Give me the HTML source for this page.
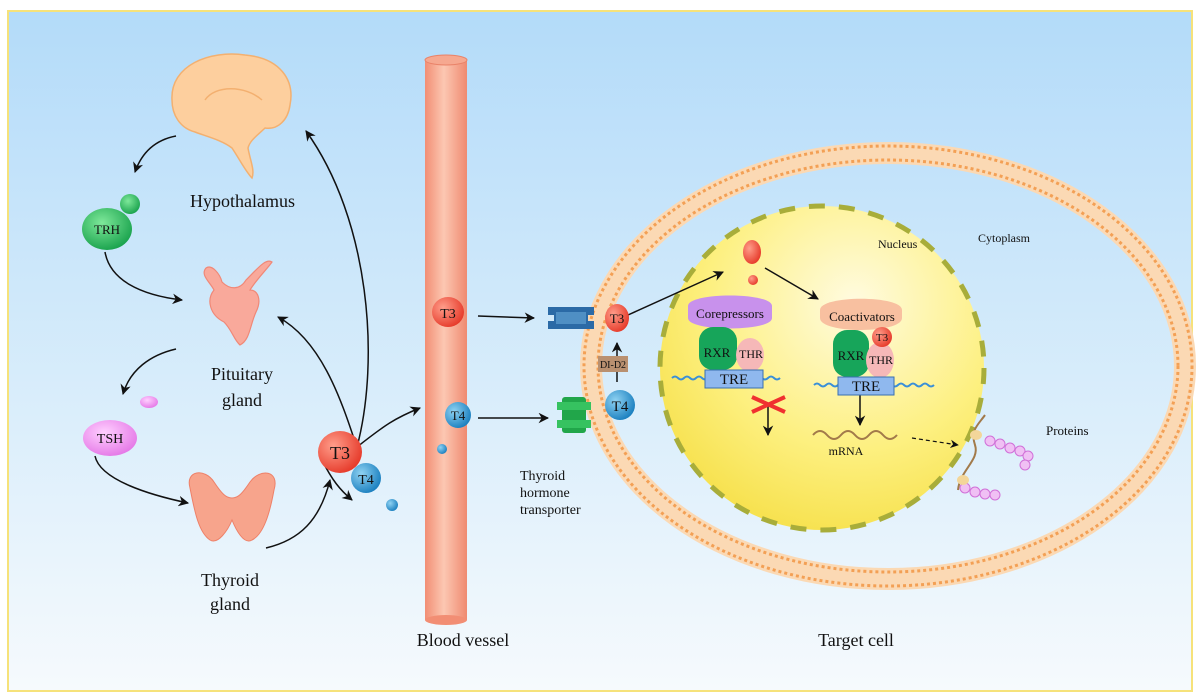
<!DOCTYPE html>
<html><head><meta charset="utf-8"><style>
html,body{margin:0;padding:0;background:#fff;}
svg{display:block;}
text{font-family:"Liberation Serif",serif;fill:#111;}
</style></head><body>
<svg width="1200" height="700" viewBox="0 0 1200 700" xmlns="http://www.w3.org/2000/svg">
<defs>
<linearGradient id="bg" x1="0" y1="0" x2="0" y2="1">
<stop offset="0" stop-color="#b3dbf9"/><stop offset="0.6" stop-color="#dbeefb"/><stop offset="1" stop-color="#f6fafd"/>
</linearGradient>
<linearGradient id="vessel" x1="0" y1="0" x2="1" y2="0">
<stop offset="0" stop-color="#f28e74"/><stop offset="0.45" stop-color="#fcc7b2"/><stop offset="1" stop-color="#ef8a70"/>
</linearGradient>
<radialGradient id="nuc" cx="0.6" cy="0.3" r="0.75">
<stop offset="0" stop-color="#fffbe0"/><stop offset="0.6" stop-color="#fdf080"/><stop offset="1" stop-color="#f6e04a"/>
</radialGradient>
<radialGradient id="red" cx="0.35" cy="0.35" r="0.7"><stop offset="0" stop-color="#ff9d8a"/><stop offset="1" stop-color="#e63a2a"/></radialGradient>
<radialGradient id="blue" cx="0.35" cy="0.35" r="0.7"><stop offset="0" stop-color="#8fd2f2"/><stop offset="1" stop-color="#1a7fbf"/></radialGradient>
<radialGradient id="green" cx="0.4" cy="0.35" r="0.7"><stop offset="0" stop-color="#7ee89a"/><stop offset="1" stop-color="#16a04a"/></radialGradient>
<radialGradient id="pink" cx="0.4" cy="0.35" r="0.7"><stop offset="0" stop-color="#ffd0ff"/><stop offset="1" stop-color="#e476e6"/></radialGradient>
<marker id="ar" viewBox="0 0 10 10" refX="9" refY="5" markerWidth="7" markerHeight="7" orient="auto"><path d="M0,0 L10,5 L0,10 L3,5 z" fill="#111"/></marker>
</defs>
<rect x="0" y="0" width="1200" height="700" fill="#fff"/>
<rect x="8" y="11" width="1184" height="680" fill="url(#bg)" stroke="#f6e27a" stroke-width="2"/>

<g fill="#fdcf9e" stroke="#f3b070" stroke-width="1.5">
<path d="M172,100 C170,65 210,50 245,55 C280,58 295,80 290,105 C288,120 278,130 265,128 C258,135 250,140 248,148 C250,160 255,170 252,178 C246,172 240,160 232,148 C222,140 205,136 195,132 C180,128 172,115 172,100 z"/>
<path d="M205,100 C215,85 245,85 262,100" fill="none"/>
</g>
<text x="190" y="207" font-size="18">Hypothalamus</text>

<circle cx="130" cy="204" r="10" fill="url(#green)"/>
<ellipse cx="107" cy="229" rx="25" ry="21" fill="url(#green)"/>
<text x="107" y="234" font-size="13" text-anchor="middle">TRH</text>

<g fill="#f9a99b" stroke="#f08877" stroke-width="1.2">
<path d="M206,268 C200,275 210,282 214,290 C206,300 210,315 224,322 C232,330 234,340 240,345 C250,340 250,325 256,312 C262,300 258,290 250,290 C256,280 268,268 272,262 C266,258 258,268 246,280 C240,290 230,290 222,282 C220,274 212,264 206,268 z"/>
</g>
<text x="242" y="380" font-size="18" text-anchor="middle">Pituitary</text>
<text x="242" y="406" font-size="18" text-anchor="middle">gland</text>

<ellipse cx="149" cy="402" rx="9" ry="6" fill="url(#pink)"/>
<ellipse cx="110" cy="438" rx="27" ry="18" fill="url(#pink)"/>
<text x="110" y="443" font-size="14" text-anchor="middle">TSH</text>

<g fill="#f7a48c" stroke="#ee8068" stroke-width="1">
<path d="M190,488 C185,470 205,468 214,482 C222,494 226,498 232,498 C238,498 242,494 250,482 C260,468 280,470 274,490 C270,512 264,534 252,540 C244,545 236,530 232,520 C228,530 218,545 210,540 C198,532 194,508 190,488 z"/>
</g>
<text x="230" y="586" font-size="18" text-anchor="middle">Thyroid</text>
<text x="230" y="610" font-size="18" text-anchor="middle">gland</text>

<g fill="none" stroke="#111" stroke-width="1.5" marker-end="url(#ar)">
<path d="M176,136 C155,140 142,152 135,172"/>
<path d="M105,252 C110,280 140,295 182,300"/>
<path d="M176,349 C150,355 130,370 123,394"/>
<path d="M95,456 C100,480 150,495 188,503"/>
<path d="M266,548 C300,540 320,520 330,480"/>
<path d="M357,448 C340,395 320,340 278,317"/>
<path d="M357,447 C380,360 370,220 306,131"/>
<path d="M357,447 C385,425 395,418 420,408"/>
<path d="M322,460 C332,480 340,490 352,500"/>
</g>

<ellipse cx="340" cy="452" rx="22" ry="21" fill="url(#red)"/>
<text x="340" y="459" font-size="18" text-anchor="middle">T3</text>
<circle cx="366" cy="478" r="15" fill="url(#blue)"/>
<text x="366" y="484" font-size="14" text-anchor="middle">T4</text>
<circle cx="392" cy="505" r="6" fill="url(#blue)"/>

<rect x="425" y="60" width="42" height="560" fill="url(#vessel)"/>
<ellipse cx="446" cy="60" rx="21" ry="5" fill="#f6a890" stroke="#e98268"/>
<ellipse cx="446" cy="620" rx="21" ry="5" fill="#f28e74"/>
<ellipse cx="448" cy="312" rx="16" ry="15" fill="url(#red)"/>
<text x="448" y="318" font-size="14" text-anchor="middle">T3</text>
<circle cx="458" cy="415" r="13" fill="url(#blue)"/>
<text x="458" y="420" font-size="13" text-anchor="middle">T4</text>
<circle cx="442" cy="449" r="5" fill="url(#blue)"/>
<text x="463" y="646" font-size="18" text-anchor="middle">Blood vessel</text>

<ellipse cx="888" cy="366" rx="297" ry="213" fill="none" stroke="#fbd9b4" stroke-width="22"/>
<ellipse cx="888" cy="366" rx="304" ry="220" fill="none" stroke="#f3a055" stroke-width="3" stroke-dasharray="3 3"/>
<ellipse cx="888" cy="366" rx="290" ry="206" fill="none" stroke="#f3a055" stroke-width="3" stroke-dasharray="3 3"/>
<text x="978" y="242" font-size="12" font-family="Liberation Sans,sans-serif">Cytoplasm</text>

<circle cx="822" cy="368" r="162" fill="url(#nuc)" stroke="#a8ad3a" stroke-width="5" stroke-dasharray="16 14"/>
<text x="878" y="248" font-size="12" font-family="Liberation Sans,sans-serif">Nucleus</text>

<g>
<path d="M548,307 h46 v8 h-6 v6 h6 v8 h-46 v-8 h6 v-6 h-6 z" fill="#2b6aa6"/>
<rect x="556" y="312" width="30" height="12" fill="#4f8fc4"/>
<rect x="562" y="397" width="24" height="36" rx="3" fill="#21a64a"/>
<rect x="557" y="402" width="34" height="8" fill="#36c260"/>
<rect x="557" y="420" width="34" height="8" fill="#36c260"/>
</g>
<g fill="none" stroke="#111" stroke-width="1.5" marker-end="url(#ar)">
<path d="M478,316 L534,318"/>
<path d="M478,418 L548,418"/>
<path d="M628,315 L723,272"/>
<path d="M765,268 L818,299"/>
<path d="M617,382 L617,343"/>
<path d="M768,406 L768,435"/>
<path d="M860,380 L860,425"/>
</g>
<ellipse cx="617" cy="318" rx="12" ry="14" fill="url(#red)"/>
<text x="617" y="323" font-size="13" text-anchor="middle">T3</text>
<rect x="598" y="356" width="30" height="16" fill="#b99070"/>
<text x="613" y="368" font-size="10" text-anchor="middle">DI-D2</text>
<circle cx="620" cy="405" r="15" fill="url(#blue)"/>
<text x="620" y="411" font-size="15" text-anchor="middle">T4</text>
<text x="520" y="480" font-size="14" font-family="Liberation Sans,sans-serif">Thyroid</text>
<text x="520" y="497" font-size="14" font-family="Liberation Sans,sans-serif">hormone</text>
<text x="520" y="514" font-size="14" font-family="Liberation Sans,sans-serif">transporter</text>

<ellipse cx="752" cy="252" rx="9" ry="12" fill="url(#red)"/>
<circle cx="753" cy="280" r="5" fill="url(#red)"/>

<path d="M688,306 C688,292 772,292 772,306 L772,318 C772,332 688,332 688,318 z" fill="#c891ec"/>
<text x="730" y="318" font-size="13" text-anchor="middle">Corepressors</text>
<rect x="699" y="327" width="38" height="43" rx="14" fill="#17a55a"/>
<text x="717" y="357" font-size="13" text-anchor="middle">RXR</text>
<ellipse cx="750" cy="355" rx="14" ry="17" fill="#f6b8b8"/>
<text x="751" y="358" font-size="12" text-anchor="middle">THR</text>
<path d="M672,378 q3,-3 6,0 t6,0 t6,0 t6,0 t6,0 t6,0 t6,0 t6,0 t6,0 t6,0 t6,0 t6,0 t6,0 t6,0 t6,0 t6,0 t6,0 t6,0" fill="none" stroke="#3a8fd8" stroke-width="2"/>
<rect x="705" y="370" width="58" height="18" fill="#8fb8ee" stroke="#3a6fb0"/>
<text x="734" y="384" font-size="15" text-anchor="middle">TRE</text>
<path d="M752,397 L785,412 M752,412 L785,397" stroke="#f03030" stroke-width="4"/>

<path d="M820,310 C820,295 902,295 902,310 L902,318 C902,334 820,334 820,318 z" fill="#f8c0a0"/>
<text x="862" y="321" font-size="13" text-anchor="middle">Coactivators</text>
<rect x="833" y="330" width="36" height="47" rx="14" fill="#17a55a"/>
<text x="851" y="360" font-size="13" text-anchor="middle">RXR</text>
<ellipse cx="880" cy="360" rx="14" ry="18" fill="#f6b8b8"/>
<text x="881" y="364" font-size="12" text-anchor="middle">THR</text>
<circle cx="882" cy="337" r="10" fill="url(#red)"/>
<text x="882" y="341" font-size="11" text-anchor="middle">T3</text>
<path d="M814,385 q3,-3 6,0 t6,0 t6,0 t6,0 t6,0 t6,0 t6,0 t6,0 t6,0 t6,0 t6,0 t6,0 t6,0 t6,0 t6,0 t6,0 t6,0 t6,0 t6,0 t6,0" fill="none" stroke="#3a8fd8" stroke-width="2"/>
<rect x="838" y="377" width="56" height="18" fill="#8fb8ee" stroke="#3a6fb0"/>
<text x="866" y="391" font-size="15" text-anchor="middle">TRE</text>
<path d="M813,435 q7,-8 14,0 t14,0 t14,0 t14,0 t14,0 t14,0" fill="none" stroke="#a27a4a" stroke-width="2"/>
<text x="846" y="455" font-size="12" text-anchor="middle">mRNA</text>
<path d="M912,438 L958,445" fill="none" stroke="#111" stroke-width="1.2" stroke-dasharray="4 3" marker-end="url(#ar)"/>

<g fill="#f0c0f4" stroke="#d070d8" stroke-width="1">
<circle cx="990" cy="441" r="5"/><circle cx="1000" cy="444" r="5"/><circle cx="1010" cy="448" r="5"/><circle cx="1020" cy="451" r="5"/><circle cx="1028" cy="456" r="5"/><circle cx="1025" cy="465" r="5"/>
<circle cx="965" cy="488" r="5"/><circle cx="975" cy="492" r="5"/><circle cx="985" cy="494" r="5"/><circle cx="995" cy="495" r="5"/>
</g>
<path d="M985,415 C978,425 970,430 975,445 C980,460 960,470 958,490" fill="none" stroke="#a27a4a" stroke-width="2"/>
<ellipse cx="976" cy="435" rx="6" ry="5" fill="#f3d69a"/>
<ellipse cx="963" cy="480" rx="6" ry="5" fill="#f3d69a"/>
<text x="1046" y="435" font-size="13" font-family="Liberation Sans,sans-serif">Proteins</text>

<text x="856" y="646" font-size="18" text-anchor="middle">Target cell</text>
</svg>
</body></html>
